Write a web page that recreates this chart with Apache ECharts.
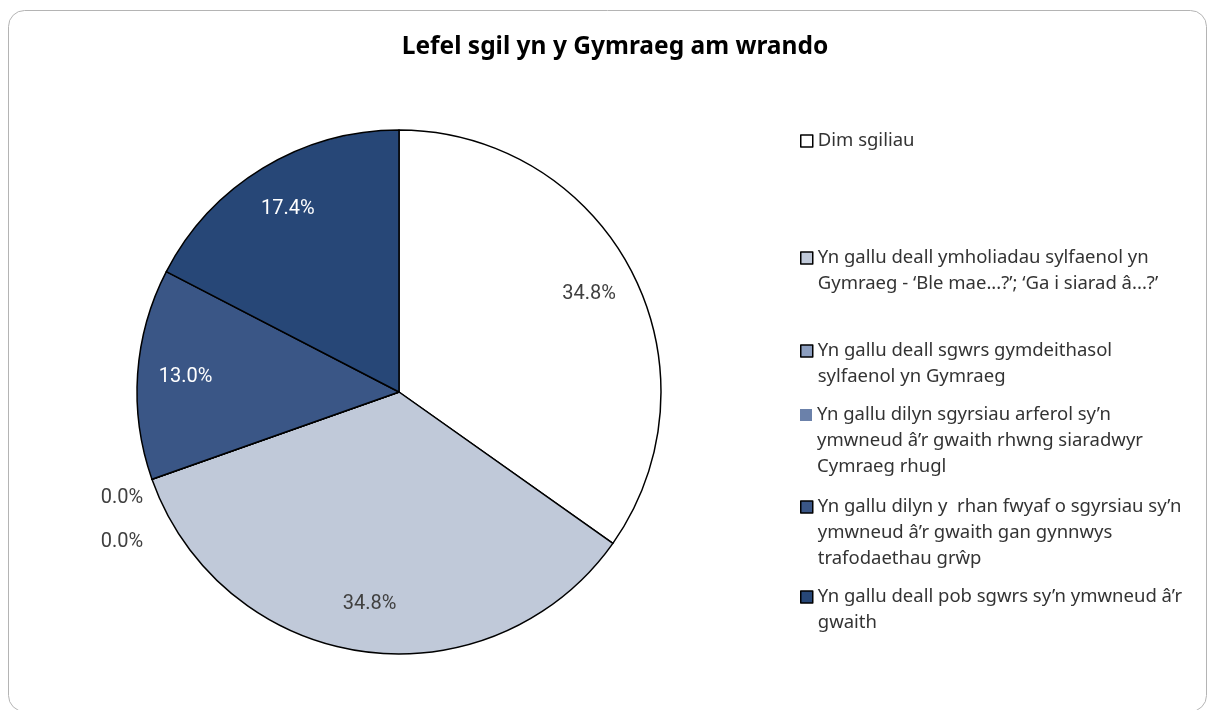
<!DOCTYPE html>
<html>
<head>
<meta charset="utf-8">
<title>Lefel sgil yn y Gymraeg am wrando</title>
<script src="https://cdn.jsdelivr.net/npm/echarts@6/dist/echarts.min.js"></script>
<style>
  html, body { margin: 0; padding: 0; background: #fff; }
  #chart { width: 1211px; height: 710px; }
</style>
</head>
<body>
<div id="chart"></div>
<script>
  // categories (legend order) and shares in %
  var categories = [
    'Dim sgiliau',
    'Yn gallu deall ymholiadau sylfaenol yn Gymraeg - ‘Ble mae...?’; ‘Ga i siarad â...?’',
    'Yn gallu deall sgwrs gymdeithasol sylfaenol yn Gymraeg',
    'Yn gallu dilyn sgyrsiau arferol sy’n ymwneud â’r gwaith rhwng siaradwyr Cymraeg rhugl',
    'Yn gallu dilyn y  rhan fwyaf o sgyrsiau sy’n ymwneud â’r gwaith gan gynnwys trafodaethau grŵp',
    'Yn gallu deall pob sgwrs sy’n ymwneud â’r gwaith'
  ];
  var values = [34.8, 34.8, 0.0, 0.0, 13.0, 17.4];
  var colors = ['#ffffff', '#c0c9d9', '#8c9ebf', '#6b81aa', '#3a5686', '#274777'];
  // how the legend text wraps
  var legendLines = [
    ['Dim sgiliau'],
    ['Yn gallu deall ymholiadau sylfaenol yn', 'Gymraeg - ‘Ble mae...?’; ‘Ga i siarad â...?’'],
    ['Yn gallu deall sgwrs gymdeithasol', 'sylfaenol yn Gymraeg'],
    ['Yn gallu dilyn sgyrsiau arferol sy’n', 'ymwneud â’r gwaith rhwng siaradwyr', 'Cymraeg rhugl'],
    ['Yn gallu dilyn y  rhan fwyaf o sgyrsiau sy’n', 'ymwneud â’r gwaith gan gynnwys', 'trafodaethau grŵp'],
    ['Yn gallu deall pob sgwrs sy’n ymwneud â’r', 'gwaith']
  ];
  var legendFirstLine = [141, 258, 351, 415, 507, 597];
  // the two 0.0% labels are pushed down below the rim
  var zeroLabelShift = { 2: 17, 3: 61 };

  var LH = 26;
  var FONT = 'Noto Sans';
  var cx = 399, cy = 392, R = 262;

  var data = categories.map(function (c, i) {
    return { name: c, value: values[i], itemStyle: { color: colors[i] } };
  });

  var legends = categories.map(function (c, i) {
    var n = legendLines[i].length;
    // blank lines in front keep the icon level with the first text line
    var pre = new Array(n).join('\n');
    return {
      data: [c],
      orient: 'vertical',
      left: 800,
      top: legendFirstLine[i] - 13 - (n - 1) * LH,
      padding: 0,
      icon: 'rect',
      itemWidth: 12,
      itemHeight: 12,
      itemStyle: i === 3 ? { borderWidth: 0 } : { borderColor: '#000', borderWidth: 1.5 },
      selectedMode: false,
      formatter: function () { return pre + legendLines[i].join('\n'); },
      textStyle: { fontFamily: FONT, fontSize: 18.5, color: '#333', lineHeight: LH }
    };
  });

  var chart = echarts.init(document.getElementById('chart'));
  chart.setOption({
    animation: false,
    title: {
      text: 'Lefel sgil yn y Gymraeg am wrando',
      left: 610, top: 30, textAlign: 'center',
      textStyle: { fontFamily: FONT, fontSize: 24.5, fontWeight: 'bold', color: '#000' }
    },
    graphic: [{
      type: 'rect',
      shape: { x: 8.5, y: 10.5, width: 1198, height: 701, r: 16 },
      style: { fill: 'none', stroke: '#b4b4b4', lineWidth: 1 },
      silent: true
    }],
    legend: legends,
    series: [
      {
        type: 'pie',
        center: [cx, cy],
        radius: [0, R],
        startAngle: 90,
        clockwise: true,
        silent: true,
        avoidLabelOverlap: false,
        itemStyle: { borderColor: '#000', borderWidth: 1.5 },
        label: {
          show: true,
          position: 'outside',
          fontFamily: 'Roboto', fontSize: 20, color: '#404040',
          formatter: function (p) { return p.value === 0 ? p.value.toFixed(1) + '%' : ''; }
        },
        labelLine: { show: false, length: 4, length2: 0 },
        labelLayout: function (p) {
          return zeroLabelShift[p.dataIndex] != null ? { dy: zeroLabelShift[p.dataIndex] } : {};
        },
        data: data
      },
      {
        // transparent ring used only to place the inner labels near the rim
        type: 'pie',
        center: [cx, cy],
        radius: [R * 0.61, R],
        startAngle: 90,
        clockwise: true,
        silent: true,
        itemStyle: { color: 'rgba(0,0,0,0)', borderWidth: 0 },
        label: {
          show: true,
          position: 'inside',
          fontFamily: 'Roboto', fontSize: 20,
          formatter: function (p) { return p.value === 0 ? '' : p.value.toFixed(1) + '%'; },
          color: '#404040'
        },
        data: values.map(function (v, i) {
          return {
            name: categories[i], value: v,
            label: { color: i >= 4 ? '#ffffff' : '#404040' }
          };
        })
      }
    ]
  });
</script>
</body>
</html>
